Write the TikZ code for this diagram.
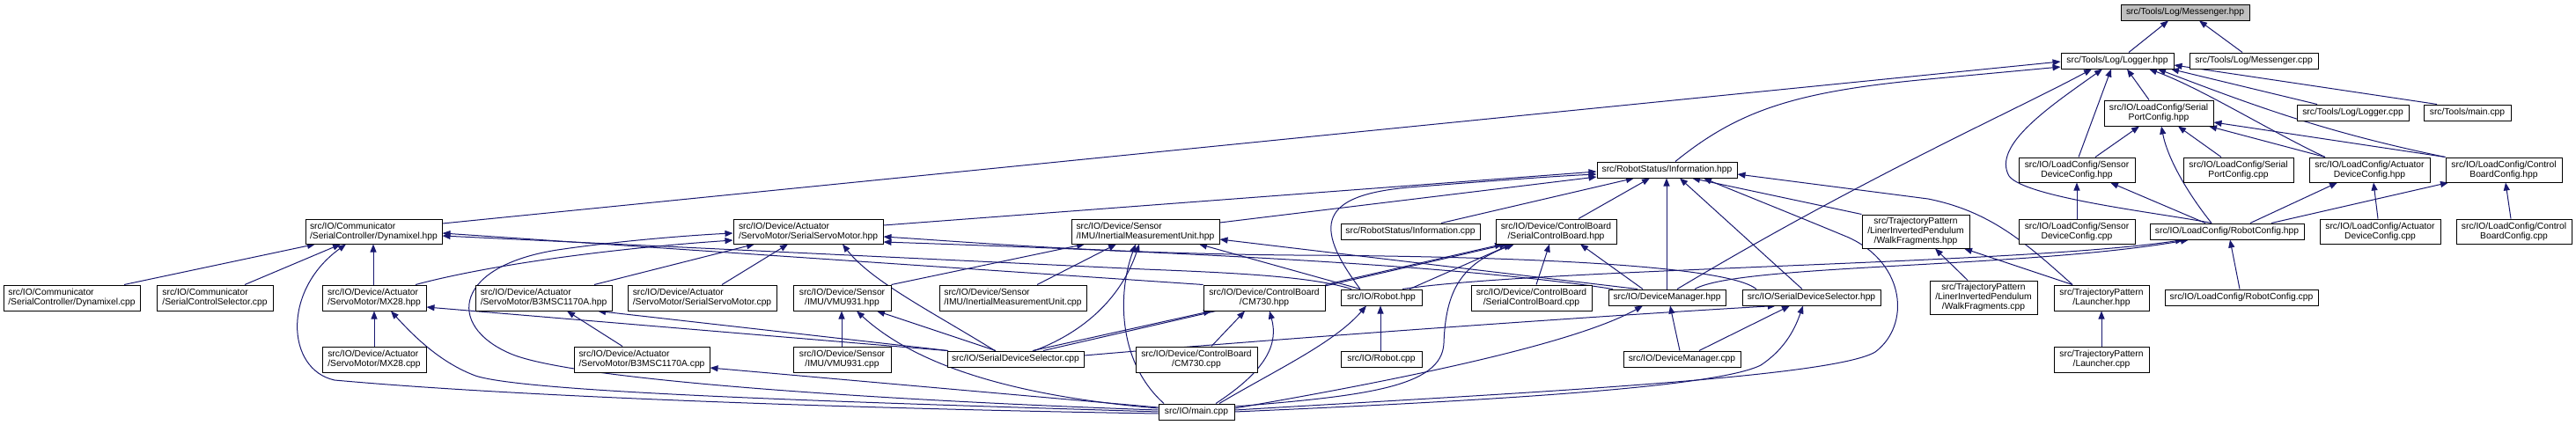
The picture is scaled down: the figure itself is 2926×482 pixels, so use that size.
\documentclass[tikz,border=0pt]{standalone}
\usepackage{fontspec}
\setmainfont{Liberation Sans}
\usetikzlibrary{arrows.meta,backgrounds}
\definecolor{edgecol}{RGB}{25,25,112}
\definecolor{focusfill}{RGB}{191,191,191}
\tikzset{
  nb/.style={draw=black, line width=1pt, fill=white, inner sep=0pt, text=black,
    font=\fontsize{10.3}{10.7}\selectfont},
  nl/.style={nb, align=left},
  nc/.style={nb, align=center},
  ed/.style={draw=edgecol, line width=1pt, -{Triangle[length=9pt,width=7pt]}},
}
\begin{document}
\begin{tikzpicture}[x=1pt,y=-1pt]
\useasboundingbox (0,0) rectangle (2926,482);
% ---- nodes (centre, size in px) ----
\node[nc, fill=focusfill, minimum width=146, minimum height=18] (msgh) at (2482,14) {src/Tools/Log/Messenger.hpp};
\node[nc, minimum width=128, minimum height=18] (logh) at (2405,69) {src/Tools/Log/Logger.hpp};
\node[nc, minimum width=146, minimum height=18] (msgc) at (2560,69) {src/Tools/Log/Messenger.cpp};
\node[nc, minimum width=124, minimum height=29] (spch) at (2452,128.5) {src/IO/LoadConfig/Serial\\PortConfig.hpp};
\node[nc, minimum width=127, minimum height=18] (logc) at (2672.5,128) {src/Tools/Log/Logger.cpp};
\node[nc, minimum width=99, minimum height=18] (tmain) at (2802.5,128) {src/Tools/main.cpp};
\node[nc, minimum width=159, minimum height=18] (infoh) at (1893.5,193) {src/RobotStatus/Information.hpp};
\node[nc, minimum width=132, minimum height=28] (sdch) at (2359,193) {src/IO/LoadConfig/Sensor\\DeviceConfig.hpp};
\node[nc, minimum width=125, minimum height=28] (spcc) at (2542.5,193) {src/IO/LoadConfig/Serial\\PortConfig.cpp};
\node[nc, minimum width=137, minimum height=28] (adch) at (2691.5,193) {src/IO/LoadConfig/Actuator\\DeviceConfig.hpp};
\node[nc, minimum width=132, minimum height=28] (cbch) at (2844,193) {src/IO/LoadConfig/Control\\BoardConfig.hpp};
% row 4
\node[nl, minimum width=155, minimum height=28] (dynh) at (424.5,263) {src/IO/Communicator\\/SerialController/Dynamixel.hpp};
\node[nl, minimum width=170, minimum height=28] (ssmh) at (918,263) {src/IO/Device/Actuator\\/ServoMotor/SerialServoMotor.hpp};
\node[nl, minimum width=168, minimum height=28] (imuh) at (1301,263) {src/IO/Device/Sensor\\/IMU/InertialMeasurementUnit.hpp};
\node[nc, minimum width=158, minimum height=18] (infoc) at (1602,263) {src/RobotStatus/Information.cpp};
\node[nc, minimum width=137, minimum height=28] (scbh) at (1767.5,263) {src/IO/Device/ControlBoard\\/SerialControlBoard.hpp};
\node[nc, minimum width=122, minimum height=38] (wfh) at (2176,263) {src/TrajectoryPattern\\/LinerInvertedPendulum\\/WalkFragments.hpp};
\node[nc, minimum width=132, minimum height=28] (sdcc) at (2359,263) {src/IO/LoadConfig/Sensor\\DeviceConfig.cpp};
\node[nc, minimum width=175, minimum height=18] (rch) at (2529.5,263) {src/IO/LoadConfig/RobotConfig.hpp};
\node[nc, minimum width=137, minimum height=28] (adcc) at (2703.5,263) {src/IO/LoadConfig/Actuator\\DeviceConfig.cpp};
\node[nc, minimum width=131, minimum height=28] (cbcc) at (2855.5,263) {src/IO/LoadConfig/Control\\BoardConfig.cpp};
% row 5
\node[nl, minimum width=155, minimum height=29] (dync) at (81.5,338.5) {src/IO/Communicator\\/SerialController/Dynamixel.cpp};
\node[nl, minimum width=132, minimum height=29] (scsc) at (244,338.5) {src/IO/Communicator\\/SerialControlSelector.cpp};
\node[nl, minimum width=118, minimum height=29] (mx28h) at (425,338.5) {src/IO/Device/Actuator\\/ServoMotor/MX28.hpp};
\node[nl, minimum width=155, minimum height=29] (b3mh) at (617.5,338.5) {src/IO/Device/Actuator\\/ServoMotor/B3MSC1170A.hpp};
\node[nl, minimum width=169, minimum height=29] (ssmc) at (797.5,338.5) {src/IO/Device/Actuator\\/ServoMotor/SerialServoMotor.cpp};
\node[nc, minimum width=111, minimum height=29] (vmuh) at (956.5,338.5) {src/IO/Device/Sensor\\/IMU/VMU931.hpp};
\node[nl, minimum width=167, minimum height=29] (imuc) at (1150.5,338.5) {src/IO/Device/Sensor\\/IMU/InertialMeasurementUnit.cpp};
\node[nc, minimum width=138, minimum height=29] (cm730h) at (1436,338.5) {src/IO/Device/ControlBoard\\/CM730.hpp};
\node[nc, minimum width=92, minimum height=18] (roboth) at (1569,338) {src/IO/Robot.hpp};
\node[nc, minimum width=137, minimum height=29] (scbc) at (1739.5,338.5) {src/IO/Device/ControlBoard\\/SerialControlBoard.cpp};
\node[nc, minimum width=133, minimum height=18] (dmh) at (1893.5,338) {src/IO/DeviceManager.hpp};
\node[nc, minimum width=157, minimum height=18] (sdsh) at (2057.5,338) {src/IO/SerialDeviceSelector.hpp};
\node[nc, minimum width=122, minimum height=38] (wfc) at (2253,338) {src/TrajectoryPattern\\/LinerInvertedPendulum\\/WalkFragments.cpp};
\node[nc, minimum width=108, minimum height=29] (lnh) at (2387,338.5) {src/TrajectoryPattern\\/Launcher.hpp};
\node[nc, minimum width=174, minimum height=18] (rcc) at (2546,338) {src/IO/LoadConfig/RobotConfig.cpp};
% row 6
\node[nl, minimum width=118, minimum height=29] (mx28c) at (425,408.5) {src/IO/Device/Actuator\\/ServoMotor/MX28.cpp};
\node[nl, minimum width=154, minimum height=29] (b3mc) at (729,408.5) {src/IO/Device/Actuator\\/ServoMotor/B3MSC1170A.cpp};
\node[nc, minimum width=111, minimum height=29] (vmuc) at (956.5,408.5) {src/IO/Device/Sensor\\/IMU/VMU931.cpp};
\node[nc, minimum width=155, minimum height=18] (sdsc) at (1153.5,408) {src/IO/SerialDeviceSelector.cpp};
\node[nc, minimum width=138, minimum height=29] (cm730c) at (1359,408.5) {src/IO/Device/ControlBoard\\/CM730.cpp};
\node[nc, minimum width=92, minimum height=18] (robotc) at (1569,408) {src/IO/Robot.cpp};
\node[nc, minimum width=133, minimum height=18] (dmc) at (1910.5,408) {src/IO/DeviceManager.cpp};
\node[nc, minimum width=108, minimum height=29] (lnc) at (2387,408.5) {src/TrajectoryPattern\\/Launcher.cpp};
% row 7
\node[nc, minimum width=86, minimum height=18] (main) at (1359,468) {src/IO/main.cpp};

% ---- edges: includer -> included ----
\begin{pgfonlayer}{background}
\draw[ed] (2418,0 |- logh.north) -- (2463,0 |- msgh.south);
\draw[ed] (2547,0 |- msgc.north) -- (2498,0 |- msgh.south);
\draw[ed] (dynh.east |- 0,254) -- (logh.west |- 0,70);
\draw[ed] (1903,0 |- infoh.north) .. controls (1975,125) and (2040,104) .. (2190,90) -- (logh.west |- 0,76);
\draw[ed] (1905,0 |- dmh.north) .. controls (2120,200) and (2290,125) .. (2376,0 |- logh.south);
\draw[ed] (2512,0 |- rch.north) .. controls (2460,243) and (2300,225) .. (2282,200) .. controls (2262,165) and (2330,120) .. (2388,0 |- logh.south);
\draw[ed] (2361,0 |- sdch.north) -- (2398,0 |- logh.south);
\draw[ed] (2441,0 |- spch.north) -- (2416,0 |- logh.south);
\draw[ed] (2641,0 |- adch.north) .. controls (2580,150) and (2500,100) .. (2441,0 |- logh.south);
\draw[ed] (cbch.north west) .. controls (2640,150) and (2560,120) .. (2451,0 |- logh.south);
\draw[ed] (2632,0 |- logc.north) -- (2466,0 |- logh.south);
\draw[ed] (2768,0 |- tmain.north) -- (logh.east |- 0,74);
\draw[ed] (2380,0 |- sdch.north) -- (2430,0 |- spch.south);
\draw[ed] (2512,0 |- rch.north) .. controls (2485,220) and (2462,180) .. (2455,0 |- spch.south);
\draw[ed] (2523,0 |- spcc.north) -- (2474,0 |- spch.south);
\draw[ed] (2641,0 |- adch.north) -- (2509,0 |- spch.south);
\draw[ed] (cbch.north west) -- (spch.east |- 0,139);
\draw[ed] (2359,0 |- sdcc.north) -- (2359,0 |- sdch.south);
\draw[ed] (2505,0 |- rch.north) -- (2397,0 |- sdch.south);
\draw[ed] (2701,0 |- adcc.north) -- (2696,0 |- adch.south);
\draw[ed] (2556,0 |- rch.north) -- (2655,0 |- adch.south);
\draw[ed] (2852,0 |- cbcc.north) -- (2846,0 |- cbch.south);
\draw[ed] (2580,0 |- rch.north) -- (2781,0 |- cbch.south);
\draw[ed] (2544,0 |- rcc.north) -- (2533,0 |- rch.south);
\draw[ed] (1925,0 |- dmh.north) .. controls (1975,300) and (2300,305) .. (2486,0 |- rch.south);
\draw[ed] (1593,0 |- roboth.north) .. controls (1750,305) and (2300,300) .. (2480,0 |- rch.south);
% Information.hpp
\draw[ed] (ssmh.east |- 0,256) -- (infoh.west |- 0,195);
\draw[ed] (imuh.east |- 0,253) -- (infoh.west |- 0,201);
\draw[ed] (1545,0 |- roboth.north) .. controls (1490,255) and (1500,222) .. (1600,213) .. controls (1700,205) and (1770,200) .. (infoh.west |- 0,198);
\draw[ed] (1637,0 |- infoc.north) -- (1856,0 |- infoh.south);
\draw[ed] (1793,0 |- scbh.north) -- (1874,0 |- infoh.south);
\draw[ed] (1893,0 |- dmh.north) -- (1893,0 |- infoh.south);
\draw[ed] (2047,0 |- sdsh.north) -- (1908,0 |- infoh.south);
\draw[ed] (wfh.north west) -- (1922,0 |- infoh.south);
\draw[ed] (2354,0 |- lnh.north) .. controls (2300,275) and (2260,240) .. (2190,226) -- (infoh.east |- 0,198);
\draw[ed] (main.east |- 0,466) .. controls (1700,448) and (2080,430) .. (2130,400) .. controls (2170,370) and (2165,300) .. (2100,270) .. controls (2040,245) and (1965,215) .. (1935,0 |- infoh.south);
% Dynamixel.hpp
\draw[ed] (141,0 |- dync.north) -- (358,0 |- dynh.south);
\draw[ed] (278,0 |- scsc.north) -- (387,0 |- dynh.south);
\draw[ed] (424,0 |- mx28h.north) -- (424,0 |- dynh.south);
\draw[ed] (main.west |- 0,470) .. controls (1000,465) and (600,452) .. (380,432) .. controls (325,420) and (320,330) .. (393,0 |- dynh.south);
\draw[ed] (cm730h.north west) -- (dynh.east |- 0,265);
\draw[ed] (1535,0 |- roboth.north) .. controls (1490,314) and (1400,310) .. (1300,306) -- (dynh.east |- 0,268);
% SerialServoMotor.hpp
\draw[ed] (main.west |- 0,466) .. controls (1000,455) and (650,432) .. (580,402) .. controls (505,370) and (515,300) .. (640,283) .. controls (710,273) and (790,267) .. (ssmh.west |- 0,265);
\draw[ed] (472,0 |- mx28h.north) .. controls (560,300) and (700,282) .. (ssmh.west |- 0,273);
\draw[ed] (675,0 |- b3mh.north) -- (857,0 |- ssmh.south);
\draw[ed] (820,0 |- ssmc.north) -- (895,0 |- ssmh.south);
\draw[ed] (1130,0 |- sdsc.north) .. controls (1060,355) and (990,320) .. (957,0 |- ssmh.south);
\draw[ed] (1832,0 |- dmh.north) .. controls (1650,300) and (1300,285) .. (ssmh.east |- 0,275);
\draw[ed] (1995,0 |- sdsh.north) .. controls (1960,300) and (1700,291) .. (1470,290) .. controls (1250,288) and (1100,275) .. (ssmh.east |- 0,269);
% InertialMeasurementUnit.hpp
\draw[ed] (vmuh.north east) -- (1232,0 |- imuh.south);
\draw[ed] (1178,0 |- imuc.north) -- (1268,0 |- imuh.south);
\draw[ed] (1322,0 |- main.north) .. controls (1268,410) and (1270,330) .. (1290,0 |- imuh.south);
\draw[ed] (1175,0 |- sdsc.north) .. controls (1250,370) and (1280,320) .. (1294,0 |- imuh.south);
\draw[ed] (1860,0 |- dmh.north) -- (imuh.east |- 0,272);
\draw[ed] (1545,0 |- roboth.north) -- (1362,0 |- imuh.south);
% SerialControlBoard.hpp
\draw[ed] (1745,0 |- scbc.north) -- (1760,0 |- scbh.south);
\draw[ed] (1866,0 |- dmh.north) -- (1795,0 |- scbh.south);
\draw[ed] (1601,0 |- roboth.north) -- (1717,0 |- scbh.south);
\draw[ed] (cm730h.north east) -- (1707,0 |- scbh.south);
\draw[ed] (main.east |- 0,462) .. controls (1550,450) and (1638,440) .. (1640,390) .. controls (1642,330) and (1660,300) .. (1720,0 |- scbh.south);
\draw[ed] (1185,0 |- sdsc.north) -- (1712,0 |- scbh.south);
% DeviceManager.hpp, SerialDeviceSelector.hpp, Robot.hpp
\draw[ed] (main.east |- 0,464) .. controls (1600,430) and (1790,390) .. (1866,0 |- dmh.south);
\draw[ed] (1908,0 |- dmc.north) -- (1897,0 |- dmh.south);
\draw[ed] (sdsc.east |- 0,404) .. controls (1450,385) and (1800,360) .. (2017,0 |- sdsh.south);
\draw[ed] (1930,0 |- dmc.north) -- (2033,0 |- sdsh.south);
\draw[ed] (main.east |- 0,468) .. controls (1700,455) and (1950,440) .. (2000,415) .. controls (2030,395) and (2040,370) .. (2048,0 |- sdsh.south);
\draw[ed] (1568,0 |- robotc.north) -- (1568,0 |- roboth.south);
\draw[ed] (1385,0 |- main.north) .. controls (1450,420) and (1515,390) .. (1552,0 |- roboth.south);
% MX28, B3MSC1170A, VMU931, CM730
\draw[ed] (425,0 |- mx28c.north) -- (425,0 |- mx28h.south);
\draw[ed] (main.west |- 0,468) .. controls (1000,458) and (600,447) .. (540,427) .. controls (500,412) and (470,382) .. (444,0 |- mx28h.south);
\draw[ed] (sdsc.north west) -- (mx28h.east |- 0,349);
\draw[ed] (707,0 |- b3mc.north) -- (644,0 |- b3mh.south);
\draw[ed] (1077,0 |- sdsc.north) -- (679,0 |- b3mh.south);
\draw[ed] (956,0 |- vmuc.north) -- (956,0 |- vmuh.south);
\draw[ed] (main.west |- 0,464) .. controls (1150,450) and (1040,415) .. (973,0 |- vmuh.south);
\draw[ed] (1131,0 |- sdsc.north) -- (996,0 |- vmuh.south);
\draw[ed] (1173,0 |- sdsc.north) -- (1376,0 |- cm730h.south);
\draw[ed] (1376,0 |- cm730c.north) -- (1414,0 |- cm730h.south);
\draw[ed] (1381,0 |- main.north) .. controls (1440,420) and (1452,390) .. (1442,0 |- cm730h.south);
\draw[ed] (main.west |- 0,463) -- (b3mc.east |- 0,418);
% TrajectoryPattern
\draw[ed] (2235,0 |- wfc.north) -- (2198,0 |- wfh.south);
\draw[ed] (2354,0 |- lnh.north) -- (2231,0 |- wfh.south);
\draw[ed] (2387,0 |- lnc.north) -- (2387,0 |- lnh.south);
\end{pgfonlayer}
\end{tikzpicture}
\end{document}
